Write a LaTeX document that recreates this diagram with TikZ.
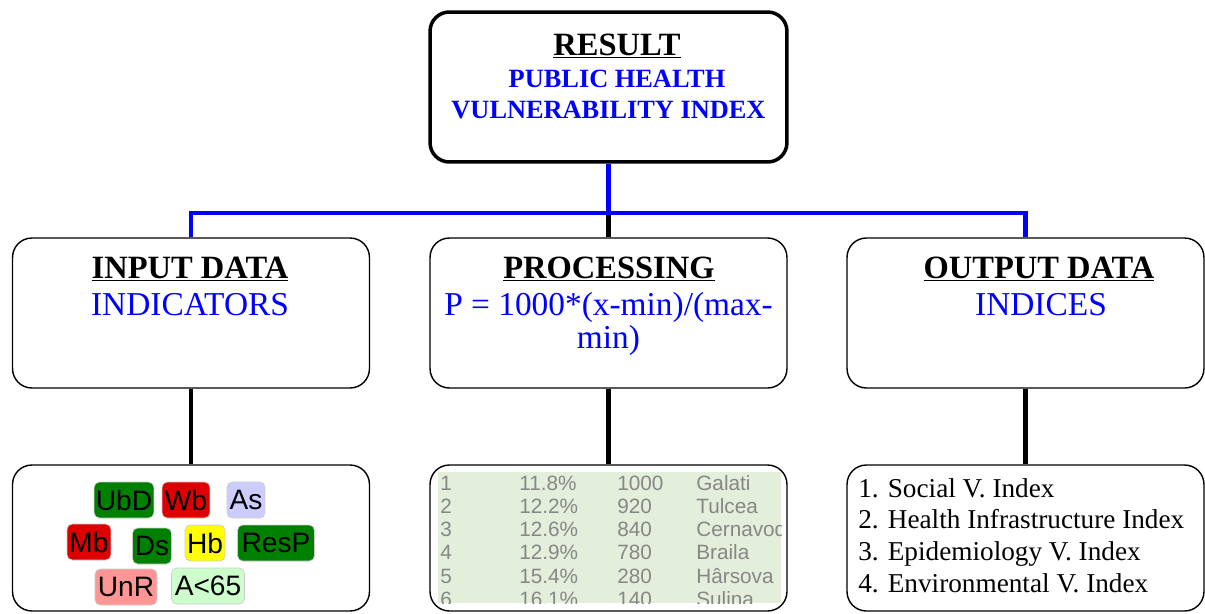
\documentclass[tikz,border=0pt]{standalone}
\usepackage{fontspec}
\setmainfont{Liberation Serif}
\setsansfont{Liberation Sans}
\usetikzlibrary{positioning}
\definecolor{headblue}{RGB}{0,0,255}
\definecolor{tagred}{RGB}{222,0,0}
\definecolor{taggreen}{RGB}{0,128,0}
\definecolor{taglilac}{RGB}{204,204,255}
\definecolor{tagyellow}{RGB}{255,255,0}
\definecolor{tagpink}{RGB}{255,150,150}
\definecolor{tagmint}{RGB}{204,255,204}
\definecolor{tablebg}{RGB}{227,238,219}
\definecolor{tablegray}{RGB}{135,135,135}
\tikzset{
  panel/.style={draw, rounded corners=11pt, line width=0.8pt,
                minimum width=7.14cm, minimum height=3cm, inner sep=0pt},
  headtxt/.style={font=\fontsize{18.5}{20}\selectfont\bfseries, anchor=base},
  bluetxt/.style={font=\fontsize{19}{21}\selectfont, text=headblue, anchor=base},
  bluelink/.style={draw=headblue, line width=2.8pt},
  stem/.style={draw=black, line width=2.8pt},
  tag/.style={font=\sffamily\fontsize{16}{17}\selectfont, draw=black!20,
              rounded corners=3pt, minimum height=0.72cm, inner sep=1pt},
  cell/.style={font=\sffamily\fontsize{11.8}{13}\selectfont, text=tablegray,
               anchor=base west, inner sep=0pt},
  listtxt/.style={font=\fontsize{15.5}{17}\selectfont, anchor=base west, inner sep=0pt}
}

\begin{document}
\begin{tikzpicture}[x=0.02cm, y=-0.02cm]
    \useasboundingbox (0,0) rectangle (1205,613);

    % boxes
    \node[panel, line width=2pt] (result) at (608.5,87) {};
    \node[panel] (input) at (191,313) {};
    \node[panel] (proc) at (608.5,313) {};
    \node[panel] (output) at (1025.5,313) {};
    \node[panel, minimum height=2.92cm] (indic) at (191,538) {};
    \node[panel, minimum height=2.92cm] (table) at (608.5,538) {};
    \node[panel, minimum height=2.92cm] (indices) at (1025.5,538) {};

    % titles
    \node[headtxt] (resultT) at (617,55) {\underline{RESULT}};
    \node[headtxt, text=headblue, font=\fontsize{15}{16}\selectfont\bfseries]
      (phT) at (617,87) {PUBLIC HEALTH};
    \node[headtxt, text=headblue, font=\fontsize{15}{16}\selectfont\bfseries]
      (vulT) at (608.5,118) {VULNERABILITY INDEX};
    \node[headtxt] (inputT) at (190,278) {\underline{INPUT DATA}};
    \node[bluetxt] (inputS) at (190,315) {INDICATORS};
    \node[headtxt] (procT) at (609,278) {\underline{PROCESSING}};
    \node[bluetxt] (procS) at (608.5,315) {P = 1000*(x-min)/(max-};
    \node[bluetxt] (procS2) at (608.5,348) {min)};
    \node[headtxt] (outputT) at (1039,278) {\underline{OUTPUT DATA}};
    \node[bluetxt] (outputS) at (1041,315) {INDICES};

    % connectors
    \coordinate (hub) at (608.5,213);
    \draw[stem] (hub) -- (proc.north);
    \draw[bluelink] (result.south) -- (hub);
    \draw[bluelink] (hub) -| (input.north);
    \draw[bluelink] (hub) -| (output.north);
    \draw[stem] (input.south) -- (indic.north);
    \draw[stem] (proc.south) -- (table.north);
    \draw[stem] (output.south) -- (indices.north);

    % indicator tags
    \node[tag, fill=taggreen, minimum width=1.16cm] (ubd) at (124,500) {UbD};
    \node[tag, fill=tagred, minimum width=0.96cm] (wb) at (186,500) {Wb};
    \node[tag, fill=taglilac, minimum width=0.76cm] (as) at (246,500) {As};
    \node[tag, fill=tagred, minimum width=0.88cm] (mb) at (89,542) {Mb};
    \node[tag, fill=taggreen, minimum width=0.78cm] (ds) at (152,546) {Ds};
    \node[tag, fill=tagyellow, minimum width=0.8cm] (hb) at (205,543) {Hb};
    \node[tag, fill=taggreen, minimum width=1.54cm] (resp) at (276,543) {ResP};
    \node[tag, fill=tagpink, minimum width=1.24cm] (unr) at (126,587) {UnR};
    \node[tag, fill=tagmint, minimum width=1.46cm] (age) at (208,586) {A<65};

    % ranking table
    \fill[tablebg] (438,472) rectangle (781,603);
    \begin{scope}
      \clip (438,472) rectangle (781,603);
      \foreach \n/\pc/\val/\town [count=\i] in
        {1/11.8\%/1000/Galati, 2/12.2\%/920/Tulcea, 3/12.6\%/840/Cernavoda,
         4/12.9\%/780/Braila, 5/15.4\%/280/Hârsova, 6/16.1\%/140/Sulina}{
        \node[cell] (rank\i) at (440,{490+(\i-1)*23.3}) {\n};
        \node[cell] (pct\i) at (519,{490+(\i-1)*23.3}) {\pc};
        \node[cell] (val\i) at (617,{490+(\i-1)*23.3}) {\val};
        \node[cell] (town\i) at (696,{490+(\i-1)*23.3}) {\town};
      }
    \end{scope}

    % output list
    \foreach \t [count=\i] in {1. Social V. Index, 2. Health Infrastructure Index,
                               3. Epidemiology V. Index, 4. Environmental V. Index}
      \node[listtxt] (out\i) at (858,{497+(\i-1)*31.7}) {\t};
\end{tikzpicture}
\end{document}
